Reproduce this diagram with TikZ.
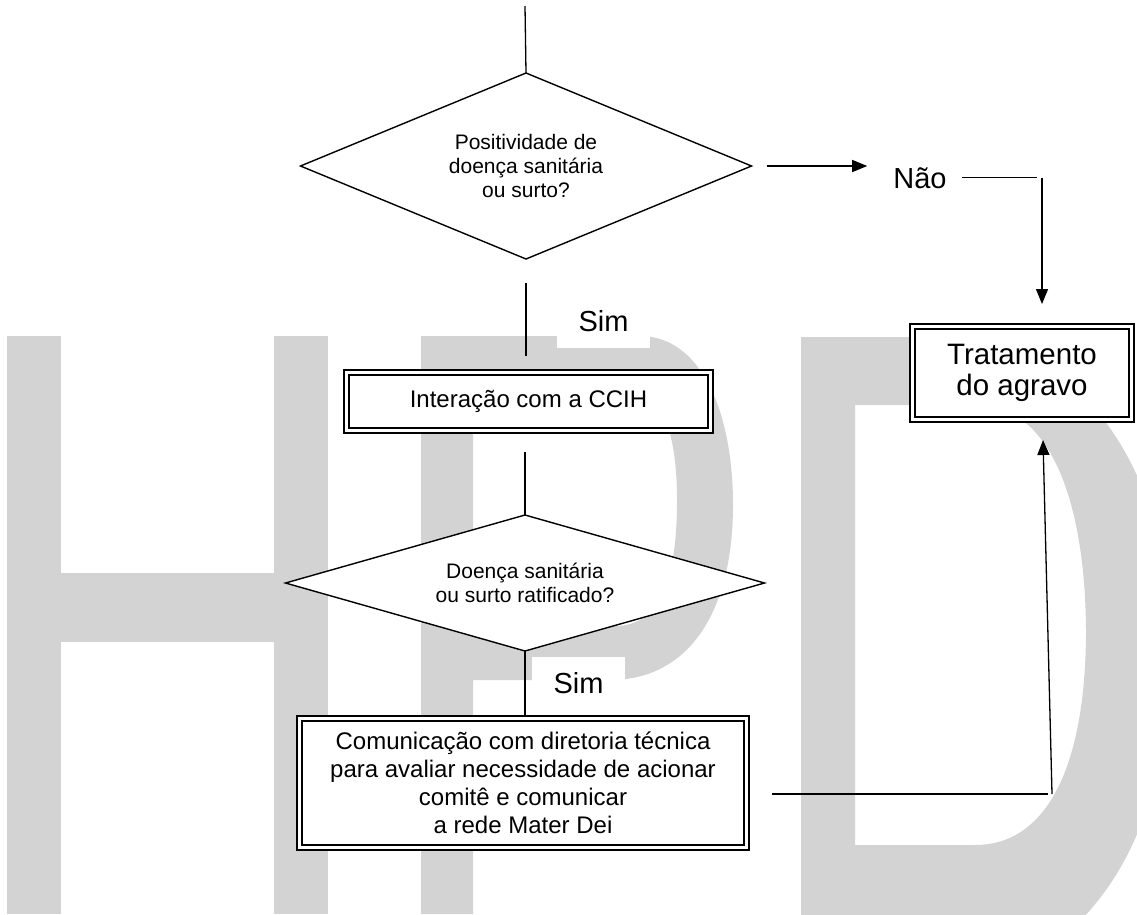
\documentclass[tikz,border=0pt]{standalone}
\usepackage{fontspec}
\setmainfont{Liberation Sans}
\usetikzlibrary{shapes.geometric,arrows.meta,calc}
\definecolor{wm}{RGB}{211,211,211}
\begin{document}
\begin{tikzpicture}[x=1pt,y=-1pt,
  ln/.style={line width=1.3pt},
  arr/.style={line width=1.3pt,-{Triangle[length=15pt,width=12pt]}},
  dbox/.style={draw,line width=2.2pt,fill=white,inner sep=0pt,outer sep=0pt,align=center},
  inbox/.style={line width=1.3pt},
  dec/.style={diamond,draw,line width=1.4pt,fill=white,inner sep=0pt,outer sep=0pt,aspect=2.5,align=center,font=\fontsize{21}{24}\selectfont},
  lbl/.style={inner sep=0pt,font=\fontsize{29}{31}\selectfont},
  simlbl/.style={fill=white,minimum width=93pt,minimum height=53pt,inner sep=0pt,font=\fontsize{29}{31}\selectfont},
]
\useasboundingbox (0,0) rectangle (1137,914);
% watermark HPD
\begin{scope}
\clip (0,0) rectangle (1137,914);
\fill[wm] (7,336) rectangle (61,914);
\fill[wm] (274,336) rectangle (328,914);
\fill[wm] (61,573) rectangle (274,642);
\fill[wm,even odd rule] (421,336) -- (640,336) .. controls (700,336) and (733,410) .. (733,505) .. controls (733,610) and (690,680) .. (610,680) -- (473,680) -- (473,914) -- (421,914) -- cycle
 (473,390) -- (630,390) .. controls (665,392) and (677,440) .. (677,500) .. controls (677,580) and (660,626) .. (615,626) -- (473,626) -- cycle;
\fill[wm,even odd rule] (801,337) -- (940,337) .. controls (1080,337) and (1170,470) .. (1170,640) .. controls (1170,790) and (1130,880) .. (1060,940) -- (801,940) -- cycle
 (855,405) -- (980,405) .. controls (1050,408) and (1085,500) .. (1086,630) .. controls (1086,760) and (1050,845) .. (975,845) -- (855,845) -- cycle;
\end{scope}

% labels with white background
\node[simlbl] (sim1) at (603.5,321.5) {Sim};
\node[simlbl] (sim2) at (578.5,683.5) {Sim};

% flowchart nodes
\coordinate (start) at (525,6);
\node[dec, minimum width=451pt, minimum height=186pt] (d1) at (526,166) {Positividade de\\doença sanitária\\ou surto?};
\node[dbox, minimum width=369pt, minimum height=63pt, font=\fontsize{24}{28}\selectfont] (b1) at (528.5,401.5) {Interação com a CCIH};
\draw[inbox] ($(b1.north west)+(5,5)$) rectangle ($(b1.south east)+(-5,-5)$);
\node[dec, minimum width=479pt, minimum height=136pt] (d2) at (525,583) {Doença sanitária\\ou surto ratificado?};
\node[dbox, minimum width=452pt, minimum height=134pt, font=\fontsize{24}{28}\selectfont] (b3) at (523,783) {Comunicação com diretoria técnica\\para avaliar necessidade de acionar\\comitê e comunicar\\a rede Mater Dei};
\draw[inbox] ($(b3.north west)+(5,5)$) rectangle ($(b3.south east)+(-5,-5)$);
\node[dbox, minimum width=224pt, minimum height=98pt, font=\fontsize{29.5}{31.5}\selectfont] (trat) at (1022,373) {Tratamento\\do agravo};
\draw[inbox] ($(trat.north west)+(5,5)$) rectangle ($(trat.south east)+(-5,-5)$);
\node[lbl, anchor=base] (nao) at (920,188) {Não};

% connectors
\draw[ln] (start) -- (d1.north);
\draw[ln, shorten <=24pt, shorten >=14pt] (d1.south) -- (d1.south |- b1.north);
\draw[ln, shorten <=19pt] (b1.south -| d2.north) -- (d2.north);
\draw[ln] (d2.south) -- (d2.south |- b3.north);
\draw[arr, shorten <=15pt, shorten >=26pt] (d1.east) -- (d1.east -| nao.west);
\coordinate (c1) at (1042,178);
\draw[ln, shorten <=15pt, shorten >=5pt] (nao.east) -- (nao.east -| c1);
\draw[arr, shorten >=20pt] (c1) -- (c1 |- trat.north);
\coordinate (c2) at (1052,794);
\draw[ln, shorten <=23pt, shorten >=4pt] (b3.east |- c2) -- (c2);
\draw[arr] (c2) -- ($(trat.south)+(21,18)$);
\end{tikzpicture}
\end{document}
